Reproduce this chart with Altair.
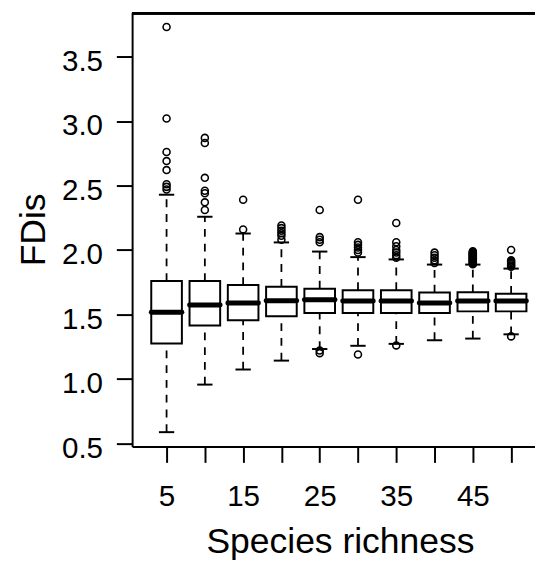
import altair as alt
import pandas as pd

# ---- data ----
richness = [5, 10, 15, 20, 25, 30, 35, 40, 45, 50]
q1 = [1.275, 1.415, 1.456, 1.486, 1.512, 1.512, 1.512, 1.512, 1.524, 1.524]
median = [1.517, 1.573, 1.589, 1.606, 1.614, 1.604, 1.604, 1.589, 1.604, 1.604]
q3 = [1.759, 1.759, 1.728, 1.715, 1.700, 1.688, 1.688, 1.670, 1.672, 1.660]
whisker_lo = [0.587, 0.956, 1.073, 1.142, 1.232, 1.257, 1.272, 1.300, 1.313, 1.346]
whisker_hi = [2.429, 2.258, 2.128, 2.059, 1.988, 1.945, 1.927, 1.887, 1.887, 1.856]
outliers = [
    [3.73, 3.02, 2.76, 2.69, 2.62, 2.51, 2.49, 2.47],
    [2.87, 2.83, 2.56, 2.46, 2.44, 2.37, 2.31],
    [2.39, 2.16],
    [2.19, 2.17, 2.15, 2.13, 2.11, 2.08],
    [2.31, 2.10, 2.08, 2.06, 1.22, 1.20],
    [2.39, 2.06, 2.04, 2.02, 2.00, 1.98, 1.19],
    [2.21, 2.06, 2.03, 2.00, 1.98, 1.96, 1.94, 1.26],
    [1.98, 1.96, 1.94, 1.92, 1.90],
    [1.99, 1.985, 1.98, 1.975, 1.97, 1.965, 1.96, 1.955, 1.95, 1.945, 1.94,
     1.935, 1.93, 1.925, 1.92, 1.915, 1.91, 1.905, 1.90, 1.895, 1.89],
    [2.00, 1.92, 1.91, 1.90, 1.89, 1.88, 1.87, 1.33],
]
y_ticks = [0.5, 1.0, 1.5, 2.0, 2.5, 3.0, 3.5]

boxes = pd.DataFrame(dict(r=richness, q1=q1, med=median, q3=q3,
                          lo=whisker_lo, hi=whisker_hi))
boxes["left"] = boxes["r"] - 2.0
boxes["right"] = boxes["r"] + 2.0
boxes["sl"] = boxes["r"] - 1.0
boxes["sr"] = boxes["r"] + 1.0

out_df = pd.DataFrame([(r, v) for r, vals in zip(richness, outliers) for v in vals],
                      columns=["r", "v"])

FONT = "Liberation Sans"
W, H = 409, 441

xscale = alt.Scale(domain=[0.5, 53.12], nice=False, zero=False)
yscale = alt.Scale(domain=[0.475, 3.845], nice=False, zero=False)

xaxis = alt.Axis(values=richness,
                 labelExpr="datum.value % 10 == 5 ? datum.label : ''",
                 title="Species richness", grid=False,
                 tickSize=16, tickWidth=2, domainWidth=2,
                 tickColor="black", domainColor="black",
                 labelFont=FONT, labelFontSize=30, labelColor="black",
                 labelPadding=20, labelFlush=False, labelOverlap=False,
                 titleFont=FONT, titleFontSize=36, titleFontWeight="normal",
                 titleColor="black", titleX=211, titleY=108,
                 titleBaseline="alphabetic", titleAlign="center")
yaxis = alt.Axis(values=y_ticks, format=".1f", title="FDis", grid=False,
                 tickSize=16, tickWidth=2, domainWidth=2,
                 tickColor="black", domainColor="black",
                 labelFont=FONT, labelFontSize=30, labelColor="black",
                 labelPadding=14, labelOffset=5, labelFlush=False,
                 titleFont=FONT, titleFontSize=36, titleFontWeight="normal",
                 titleColor="black", titleAngle=270, titleX=-89,
                 titleBaseline="alphabetic", titleAlign="center")


def X(field):
    return alt.X(field, type="quantitative", scale=xscale, axis=xaxis)


def Y(field):
    return alt.Y(field, type="quantitative", scale=yscale, axis=yaxis)


base = alt.Chart(boxes)

whisk_up = base.mark_rule(color="black", strokeWidth=1.8, strokeDash=[8, 7]).encode(
    x=X("r"), y=Y("q3"), y2="hi")
whisk_dn = base.mark_rule(color="black", strokeWidth=1.8, strokeDash=[8, 7]).encode(
    x=X("r"), y=Y("lo"), y2="q1")
staple_hi = base.mark_rule(color="black", strokeWidth=2).encode(
    x=X("sl"), x2="sr", y=Y("hi"))
staple_lo = base.mark_rule(color="black", strokeWidth=2).encode(
    x=X("sl"), x2="sr", y=Y("lo"))
box = base.mark_rect(fill="white", stroke="black", strokeWidth=2).encode(
    x=X("left"), x2="right", y=Y("q1"), y2="q3")
med = base.mark_rule(color="black", strokeWidth=5, strokeCap="round").encode(
    x=X("left"), x2="right", y=Y("med"))
pts = alt.Chart(out_df).mark_point(shape="circle", filled=False, color="black",
                                   strokeWidth=1.6, size=50, opacity=1).encode(
    x=X("r"), y=Y("v"))
top = alt.Chart(boxes).mark_rule(color="black", strokeWidth=2).encode(
    x=alt.value(0), x2=alt.value(W), y=alt.value(1))

chart = alt.layer(whisk_up, whisk_dn, staple_hi, staple_lo, box, med, pts, top).properties(
    width=W, height=H,
    autosize=alt.AutoSizeParams(type="none"),
    padding={"left": 126, "top": 0, "right": 0, "bottom": 120},
    background="white",
).configure_view(strokeWidth=0)

chart.save("out.html", embed_options={"renderer": "svg", "actions": False})
